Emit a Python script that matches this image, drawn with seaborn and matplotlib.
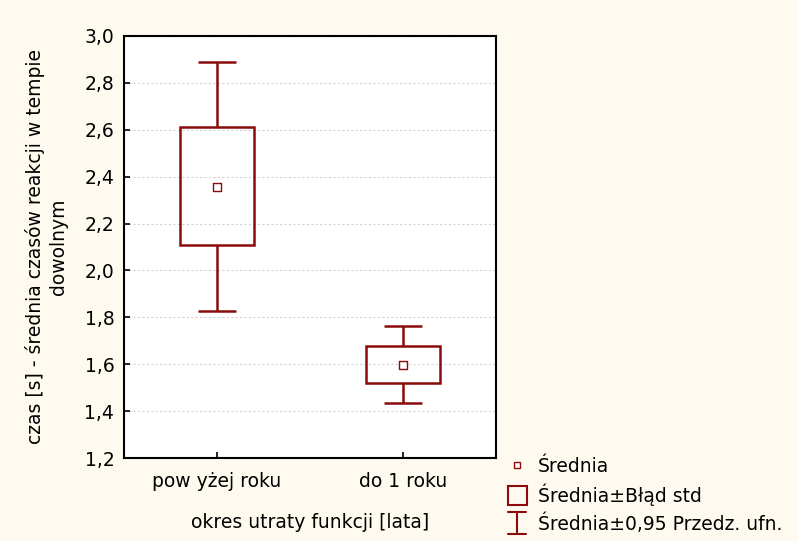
import matplotlib
matplotlib.use("Agg")
import matplotlib.pyplot as plt
import seaborn as sns
import pandas as pd
from matplotlib.legend_handler import HandlerBase
from matplotlib.patches import Rectangle
from matplotlib.lines import Line2D

# ---- data ----
categories = ["pow yżej roku", "do 1 roku"]
means = [2.357, 1.597]
se_low = [2.109, 1.520]
se_high = [2.610, 1.678]
ci_low = [1.828, 1.434]
ci_high = [2.889, 1.764]
y_ticks = [1.2, 1.4, 1.6, 1.8, 2.0, 2.2, 2.4, 2.6, 2.8, 3.0]
legend_labels = ["Średnia", "Średnia±Błąd std", "Średnia±0,95 Przedz. ufn."]

RED = "#8B0A0A"
BG = "#FEFAF0"
FS = 13.5

sns.set_theme(style="white")
plt.rcParams["font.family"] = ["DejaVu Sans"]
plt.rcParams["text.color"] = "black"
plt.rcParams["axes.labelcolor"] = "black"
plt.rcParams["xtick.color"] = "black"
plt.rcParams["ytick.color"] = "black"

fig = plt.figure(figsize=(7.98, 5.41), dpi=100, facecolor=BG)
ax = fig.add_axes([124 / 798, 1 - 458.3 / 541, (496 - 124) / 798, (458.3 - 35.7) / 541])
ax.set_facecolor("white")

df = pd.DataFrame({"cat": categories, "mean": means,
                   "se_lo": se_low, "se_hi": se_high,
                   "ci_lo": ci_low, "ci_hi": ci_high})
x = list(range(len(categories)))

box_w = 0.4
cap_w = 0.2
LW = 1.8
ax.bar(x, [h - l for h, l in zip(df["se_hi"], df["se_lo"])], bottom=df["se_lo"],
       width=box_w, fill=False, edgecolor=RED, linewidth=LW, zorder=3)
ax.vlines(x, df["se_hi"], df["ci_hi"], color=RED, linewidth=LW, zorder=3)
ax.vlines(x, df["ci_lo"], df["se_lo"], color=RED, linewidth=LW, zorder=3)
ax.hlines(df["ci_hi"], [i - cap_w / 2 for i in x], [i + cap_w / 2 for i in x], color=RED, linewidth=LW, zorder=3)
ax.hlines(df["ci_lo"], [i - cap_w / 2 for i in x], [i + cap_w / 2 for i in x], color=RED, linewidth=LW, zorder=3)
sns.scatterplot(x=x, y=df["mean"], marker="s", s=38, facecolor="white",
                edgecolor=RED, linewidth=1.0, ax=ax, zorder=4, legend=False)

ax.set_xlim(-0.5, 1.5)
ax.set_ylim(1.2, 3.0)
ax.set_yticks(y_ticks)
ax.set_yticklabels([f"{v:.1f}".replace(".", ",") for v in y_ticks])
ax.set_xticks(x)
ax.set_xticklabels(categories)
ax.grid(axis="y", color="#d2d2d2", linestyle=(0, (2, 2)), linewidth=0.8)
ax.set_axisbelow(True)
for s in ax.spines.values():
    s.set_visible(True)
    s.set_color("black")
    s.set_linewidth(1.5)
ax.tick_params(axis="both", direction="in", length=4, width=1.2, colors="black",
               labelsize=FS, left=True, bottom=True)
ax.tick_params(axis="y", pad=7)
ax.tick_params(axis="x", pad=10)
ax.set_xlabel("okres utraty funkcji [lata]", fontsize=FS, labelpad=16)
ax.set_ylabel("czas [s] - średnia czasów reakcji w tempie\ndowolnym", fontsize=FS,
              labelpad=12, linespacing=1.25)


class BoxHandler(HandlerBase):
    def create_artists(self, legend, orig_handle, xdescent, ydescent, width, height, fontsize, trans):
        r = Rectangle((-xdescent, -ydescent - 0.05 * height), width, height * 1.08,
                      fill=False, edgecolor=RED, linewidth=1.5, transform=trans)
        return [r]


class IBeamHandler(HandlerBase):
    def create_artists(self, legend, orig_handle, xdescent, ydescent, width, height, fontsize, trans):
        cx = -xdescent + width / 2
        y0 = -ydescent - 0.15 * height
        y1 = -ydescent + 1.15 * height
        cw = width * 0.95
        arts = [Line2D([cx, cx], [y0, y1], color=RED, linewidth=1.5, transform=trans),
                Line2D([cx - cw / 2, cx + cw / 2], [y0, y0], color=RED, linewidth=1.5, transform=trans),
                Line2D([cx - cw / 2, cx + cw / 2], [y1, y1], color=RED, linewidth=1.5, transform=trans)]
        return arts


class BoxProxy: pass
class IBeamProxy: pass

h_mean = Line2D([], [], marker="s", markersize=4.8, markerfacecolor="white",
                markeredgecolor=RED, markeredgewidth=1.0, linestyle="none")
h_box = BoxProxy()
h_ci = IBeamProxy()
leg = fig.legend([h_mean, h_box, h_ci], legend_labels,
                 handler_map={BoxProxy: BoxHandler(), IBeamProxy: IBeamHandler()},
                 loc="upper left", bbox_to_anchor=(508 / 798, 1 - 457 / 541),
                 bbox_transform=fig.transFigure, frameon=False, fontsize=FS,
                 handlelength=1.0, handleheight=1.0, handletextpad=0.6,
                 labelspacing=0.39, borderpad=0, borderaxespad=0)

fig.savefig("out.png", dpi=100, facecolor=BG)
